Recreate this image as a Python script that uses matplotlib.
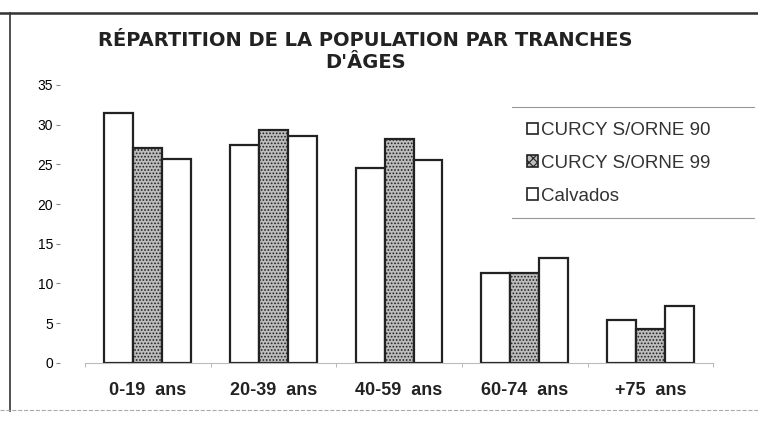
import numpy as np
import matplotlib.pyplot as plt
from matplotlib.patches import Patch

# Données
tranches = ['0-19  ans', '20-39  ans', '40-59  ans', '60-74  ans', '+75  ans']
curcy_90 = [31.5, 27.4, 24.5, 11.3, 5.4]
curcy_99 = [27.1, 29.3, 28.2, 11.3, 4.3]
calvados = [25.7, 28.6, 25.5, 13.2, 7.2]
series = ['CURCY S/ORNE 90', 'CURCY S/ORNE 99', 'Calvados']
yticks = [0, 5, 10, 15, 20, 25, 30, 35]

plt.rcParams['font.family'] = ['Liberation Sans', 'DejaVu Sans']
plt.rcParams['hatch.color'] = '#555555'
plt.rcParams['hatch.linewidth'] = 0.8

fig = plt.figure(figsize=(7.58, 4.24), dpi=100)
ax = fig.add_axes([0.112, 0.144, 0.829, 0.656])

x = np.arange(len(tranches))
w = 0.23
styles = [dict(facecolor='white'),
          dict(facecolor='#bdbdbd', hatch='.....'),
          dict(facecolor='white')]
for i, vals in enumerate([curcy_90, curcy_99, calvados]):
    ax.bar(x + (i - 1) * w, vals, w, edgecolor='#222222', linewidth=1.6, **styles[i])

ax.set_xlim(-0.5, len(tranches) - 0.5)
ax.set_ylim(0, 35)
ax.set_yticks(yticks)
ax.set_yticklabels([str(v) for v in yticks], fontsize=12, color='#333333')
ax.set_xticks(x)
ax.set_xticklabels(tranches, fontsize=13, fontweight='bold', color='#222222')
ax.tick_params(axis='x', length=0, pad=14)
ax.tick_params(axis='y', length=3, color='#888888', direction='out', pad=2)
ax.set_xticks(np.arange(len(tranches) + 1) - 0.5, minor=True)
ax.tick_params(axis='x', which='minor', length=3, color='#aaaaaa')
ax.spines['left'].set_position(('outward', 18))
for s in ['top', 'right', 'left']:
    ax.spines[s].set_visible(False)
ax.spines['bottom'].set_color('#bbbbbb')
ax.spines['bottom'].set_linewidth(0.8)

# Titre
fig.text(0.482, 0.905, "RÉPARTITION DE LA POPULATION PAR TRANCHES", ha='center', va='center',
         fontsize=14, fontweight='bold', color='#222222', family='DejaVu Sans')
fig.text(0.482, 0.853, "D'ÂGES", ha='center', va='center',
         fontsize=14, fontweight='bold', color='#222222', family='DejaVu Sans')

# Légende
handles = [Patch(facecolor='white', edgecolor='#222222', linewidth=1.2),
           Patch(facecolor='#bdbdbd', edgecolor='#222222', hatch='xxxx', linewidth=1.2),
           Patch(facecolor='white', edgecolor='#222222', linewidth=1.2)]
leg = fig.legend(handles, series, loc='upper left', bbox_to_anchor=(0.671, 0.757),
                 frameon=False, fontsize=13.5, handlelength=0.55, handleheight=0.55,
                 handletextpad=0.2, labelspacing=0.85, borderpad=0.5)
for t in leg.get_texts():
    t.set_color('#333333')
fig.add_artist(plt.Line2D([0.675, 0.995], [0.748, 0.748], color='#999999', lw=0.8))
fig.add_artist(plt.Line2D([0.675, 0.995], [0.487, 0.487], color='#999999', lw=0.8))

# Cadre
fig.add_artist(plt.Line2D([0.0, 1.0], [0.97, 0.97], color='#333333', lw=1.8))
fig.add_artist(plt.Line2D([0.013, 0.013], [0.03, 0.97], color='#333333', lw=1.2))
fig.add_artist(plt.Line2D([0.0, 1.0], [0.033, 0.033], color='#aaaaaa', lw=0.8, ls='--'))

fig.savefig('out.png', dpi=100)
